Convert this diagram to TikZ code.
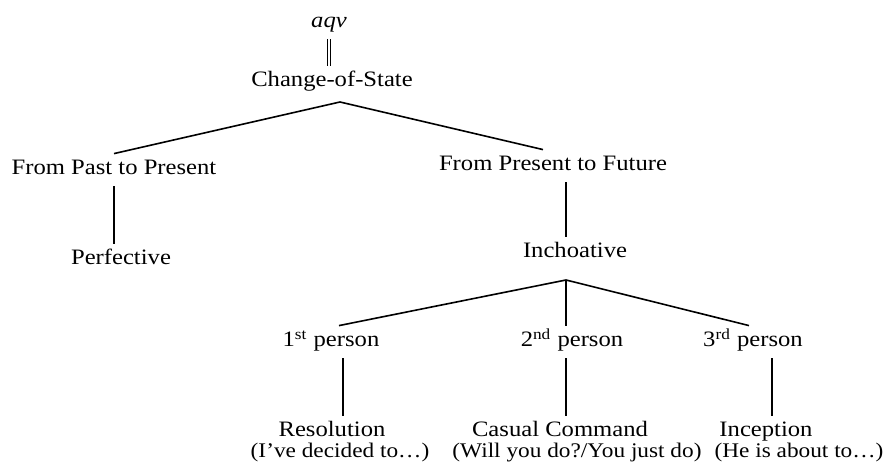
\documentclass[tikz,border=0pt]{standalone}
\usepackage{fontspec}
\setmainfont{Liberation Serif}[FakeStretch=1.12]
\usepackage{tikz}

\tikzset{
  cat/.style={anchor=base, inner xsep=0pt, inner ysep=3pt,
    text height=0.75em, text depth=0.25em,
    font=\fontsize{11}{13}\selectfont},
  gloss/.style={anchor=base, inner sep=0pt,
    font=\fontsize{10.4}{12}\selectfont},
  branch/.style={line width=0.8pt}
}

\begin{document}
\begin{tikzpicture}[x=0.5pt,y=-0.5pt]
    \useasboundingbox (0,0) rectangle (885,469);
    % top
    \node[cat] (aqv) at (329,28) {\textit{aqv}};
    \node[cat] (cos) at (332,87) {Change-of-State};
    \draw[line width=0.4pt, double distance=1pt] (aqv.south) -- (aqv.south |- cos.north);
    \coordinate (split1) at (340,102);
    % second level
    \node[cat] (past) at (114,175) {From Past to Present};
    \node[cat] (future) at (553,171) {From Present to Future};
    \draw[branch] (split1) -- (past.north);
    \draw[branch] (split1) -- ([xshift=-5pt]future.north);
    \node[cat] (perf) at (121,265) {Perfective};
    \node[cat] (inch) at (575,258) {Inchoative};
    \coordinate (split2) at (566,280);
    \draw[branch] (past.south) -- (past.south |- perf.north);
    \draw[branch] (split2 |- future.south) -- (split2 |- inch.north);
    % persons
    \node[cat] (first) at (331,347) {1\textsuperscript{st} person};
    \node[cat] (second) at (572,347) {2\textsuperscript{nd} person};
    \node[cat] (third) at (753,347) {3\textsuperscript{rd} person};
    \draw[branch] (split2) -- ([xshift=4pt]first.north);
    \draw[branch] (split2) -- (split2 |- second.north);
    \draw[branch] (split2) -- ([xshift=-2pt]third.north);
    % readings
    \node[cat] (res) at (332,437) {Resolution};
    \node[cat] (cas) at (560,437) {Casual Command};
    \node[cat] (incep) at (766,437) {Inception};
    \node[gloss] (resx) at (340,458) {(I've decided to\ldots)};
    \node[gloss] (casx) at (577,458) {(Will you do?/You just do)};
    \node[gloss] (incepx) at (799,458) {(He is about to\ldots)};
    \draw[branch] ([xshift=6pt]first.south) -- ([xshift=6pt]first.south |- res.north);
    \draw[branch] (split2 |- second.south) -- (split2 |- cas.north);
    \draw[branch] ([xshift=3pt]incep.north |- third.south) -- ([xshift=3pt]incep.north);
\end{tikzpicture}
\end{document}
